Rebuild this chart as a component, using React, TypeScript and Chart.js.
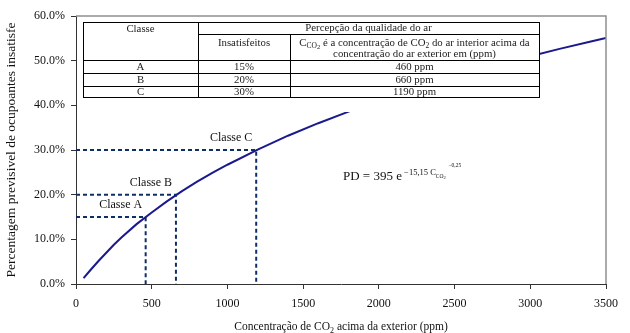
import React, { useEffect, useRef } from 'react';
import { Chart, registerables } from 'chart.js';

Chart.register(...registerables);

const SERIF = '"Liberation Serif", "Times New Roman", serif';

// Predicted percentage dissatisfied vs. CO2 above outdoor concentration
const co2Ppm = [50, 100, 150, 200, 250, 300, 400, 500, 600, 700, 800, 900, 1000, 1200, 1400, 1600, 1800, 2000, 2200, 2400, 2600, 2800, 3000, 3200, 3400, 3500];
const pdPercent = [1.3, 3.3, 5.2, 7.0, 8.8, 10.4, 13.4, 16.0, 18.5, 20.8, 22.9, 24.9, 26.7, 30.1, 33.2, 36.0, 38.6, 41.0, 43.3, 45.4, 47.4, 49.2, 51.0, 52.7, 54.3, 55.1];

// Air quality classes
const classNames = ['A', 'B', 'C'];
const classDissatisfied = [15, 20, 30];
const classPpm = [460, 660, 1190];

const xMax = 3500;
const xStep = 500;
const yMax = 60;
const yStep = 10;

const yTitle = 'Percentagem previsivel de ocupoantes insatisfe';

type Run = { t: string; size: number; base: number };

function drawRuns(ctx: CanvasRenderingContext2D, runs: Run[], x: number, align: 'left' | 'center') {
  let total = 0;
  for (const r of runs) {
    ctx.font = `${r.size}px ${SERIF}`;
    total += ctx.measureText(r.t).width;
  }
  let cx = align === 'center' ? x - total / 2 : x;
  ctx.textAlign = 'left';
  ctx.textBaseline = 'alphabetic';
  for (const r of runs) {
    ctx.font = `${r.size}px ${SERIF}`;
    ctx.fillText(r.t, cx, r.base);
    cx += ctx.measureText(r.t).width;
  }
}

const overlayPlugin = {
  id: 'overlay',
  afterDatasetsDraw(chart: any) {
    const { ctx, chartArea } = chart;
    const xs = chart.scales.x;
    const ys = chart.scales.y;
    ctx.save();

    // plot frame (top and right)
    ctx.strokeStyle = '#8e8e8e';
    ctx.lineWidth = 1.5;
    ctx.beginPath();
    ctx.moveTo(chartArea.left, chartArea.top);
    ctx.lineTo(chartArea.right, chartArea.top);
    ctx.lineTo(chartArea.right, chartArea.bottom);
    ctx.stroke();

    // class labels near each threshold point
    ctx.fillStyle = '#111';
    ctx.font = `12px ${SERIF}`;
    ctx.textAlign = 'center';
    ctx.textBaseline = 'middle';
    classNames.forEach((n, i) => {
      const px = xs.getPixelForValue(classPpm[i]);
      const py = ys.getPixelForValue(classDissatisfied[i]);
      ctx.fillText(`Classe ${n}`, px - 25, py - 12);
    });

    // equation
    ctx.fillStyle = '#111';
    drawRuns(ctx, [
      { t: 'PD = 395 e', size: 13, base: 180 },
      { t: ' \u221215,15 C', size: 8.5, base: 175 },
      { t: 'CO', size: 5.5, base: 178 },
      { t: '2', size: 4.5, base: 179 },
      { t: '  \u22120,25', size: 5.5, base: 167 },
    ], 343, 'left');

    // table box with white background
    const L = 83, C1 = 198, C2 = 290, R = 539;
    const T = 22, S = 34, H = 60, rA = 73, rB = 86, B = 97;
    ctx.fillStyle = '#fff';
    ctx.fillRect(80, 17, R - 80, 95);
    ctx.strokeStyle = '#000';
    ctx.lineWidth = 1;
    const line = (x1: number, y1: number, x2: number, y2: number) => {
      ctx.beginPath();
      ctx.moveTo(x1, y1);
      ctx.lineTo(x2, y2);
      ctx.stroke();
    };
    ctx.strokeRect(L + 0.5, T + 0.5, R - L, B - T);
    line(C1 + 0.5, T, C1 + 0.5, B);
    line(C2 + 0.5, S, C2 + 0.5, B);
    line(C1, S + 0.5, R, S + 0.5);
    line(L, H + 0.5, R, H + 0.5);
    line(L, rA + 0.5, R, rA + 0.5);
    line(L, rB + 0.5, R, rB + 0.5);

    ctx.fillStyle = '#222';
    const fs = 10.8;
    const cCls = (L + C1) / 2, cIns = (C1 + C2) / 2, cPpm = (C2 + R) / 2, cHead = (C1 + R) / 2;
    drawRuns(ctx, [{ t: 'Classe', size: fs, base: 32 }], cCls, 'center');
    drawRuns(ctx, [{ t: 'Percepção da qualidade do ar', size: fs, base: 31 }], cHead, 'center');
    drawRuns(ctx, [{ t: 'Insatisfeitos', size: fs, base: 46 }], cIns, 'center');
    drawRuns(ctx, [
      { t: 'C', size: fs, base: 46 },
      { t: 'CO', size: 7.5, base: 48 },
      { t: '2', size: 6.5, base: 49 },
      { t: ' é a concentração de CO', size: fs, base: 46 },
      { t: '2', size: 7.5, base: 48 },
      { t: ' do ar interior acima da', size: fs, base: 46 },
    ], cPpm, 'center');
    drawRuns(ctx, [{ t: 'concentração do ar exterior em (ppm)', size: fs, base: 57 }], cPpm, 'center');
    const rowBase = [70, 83, 95];
    classNames.forEach((n, i) => {
      drawRuns(ctx, [{ t: n, size: fs, base: rowBase[i] }], cCls, 'center');
      drawRuns(ctx, [{ t: `${classDissatisfied[i]}%`, size: fs, base: rowBase[i] }], cIns, 'center');
      drawRuns(ctx, [{ t: `${classPpm[i]} ppm`, size: fs, base: rowBase[i] }], cPpm, 'center');
    });

    // x axis title with subscript
    ctx.fillStyle = '#111';
    drawRuns(ctx, [
      { t: 'Concentração de CO', size: 11.5, base: 330 },
      { t: '2', size: 8, base: 333 },
      { t: ' acima da exterior (ppm)', size: 11.5, base: 330 },
    ], (chartArea.left + chartArea.right) / 2, 'center');

    ctx.restore();
  },
};

export default function App() {
  const ref = useRef<HTMLCanvasElement | null>(null);

  useEffect(() => {
    if (!ref.current) return;
    const curve = co2Ppm.map((x, i) => ({ x, y: pdPercent[i] }));
    const guides = classNames.map((n, i) => ({
      label: `Classe ${n}`,
      data: [
        { x: 0, y: classDissatisfied[i] },
        { x: classPpm[i], y: classDissatisfied[i] },
        { x: classPpm[i], y: 0 },
      ],
      borderColor: '#0d2f66',
      borderWidth: 2,
      borderDash: [4, 3],
      pointRadius: 0,
      showLine: true,
      fill: false,
      tension: 0,
    }));

    const chart = new Chart(ref.current, {
      type: 'scatter',
      data: {
        datasets: [
          {
            label: 'PD',
            data: curve,
            borderColor: '#1a1a8c',
            borderWidth: 2,
            pointRadius: 0,
            showLine: true,
            fill: false,
            tension: 0,
          },
          ...guides,
        ],
      },
      options: {
        animation: false,
        responsive: false,
        devicePixelRatio: 1,
        layout: { padding: { left: 0, top: 16, right: 24, bottom: 0 } },
        plugins: {
          legend: { display: false },
          tooltip: { enabled: false },
        },
        scales: {
          x: {
            type: 'linear',
            min: 0,
            max: xMax,
            ticks: {
              stepSize: xStep,
              color: '#111',
              font: { family: SERIF, size: 12 },
              padding: 8,
              maxRotation: 0,
              callback: (v: any) => String(v),
            },
            grid: { drawOnChartArea: false, drawTicks: true, tickLength: 5, color: '#333' },
            border: { color: '#333', width: 1 },
            afterFit: (s: any) => { s.height = 49; },
          },
          y: {
            min: 0,
            max: yMax,
            ticks: {
              stepSize: yStep,
              color: '#111',
              font: { family: SERIF, size: 12 },
              padding: 6,
              callback: (v: any) => `${Number(v).toFixed(1)}%`,
            },
            grid: { drawOnChartArea: false, drawTicks: true, tickLength: 5, color: '#333' },
            border: { color: '#333', width: 1 },
            title: {
              display: true,
              text: yTitle,
              color: '#111',
              font: { family: SERIF, size: 13.5 },
              padding: { top: 3, bottom: 0 },
            },
            afterFit: (s: any) => { s.width = 76; },
          },
        },
      },
      plugins: [overlayPlugin],
    });
    return () => chart.destroy();
  }, []);

  return (
    <div style={{ position: 'fixed', left: 0, top: 0, width: 630, height: 333, background: '#fff' }}>
      <canvas ref={ref} width={630} height={333} />
    </div>
  );
}
